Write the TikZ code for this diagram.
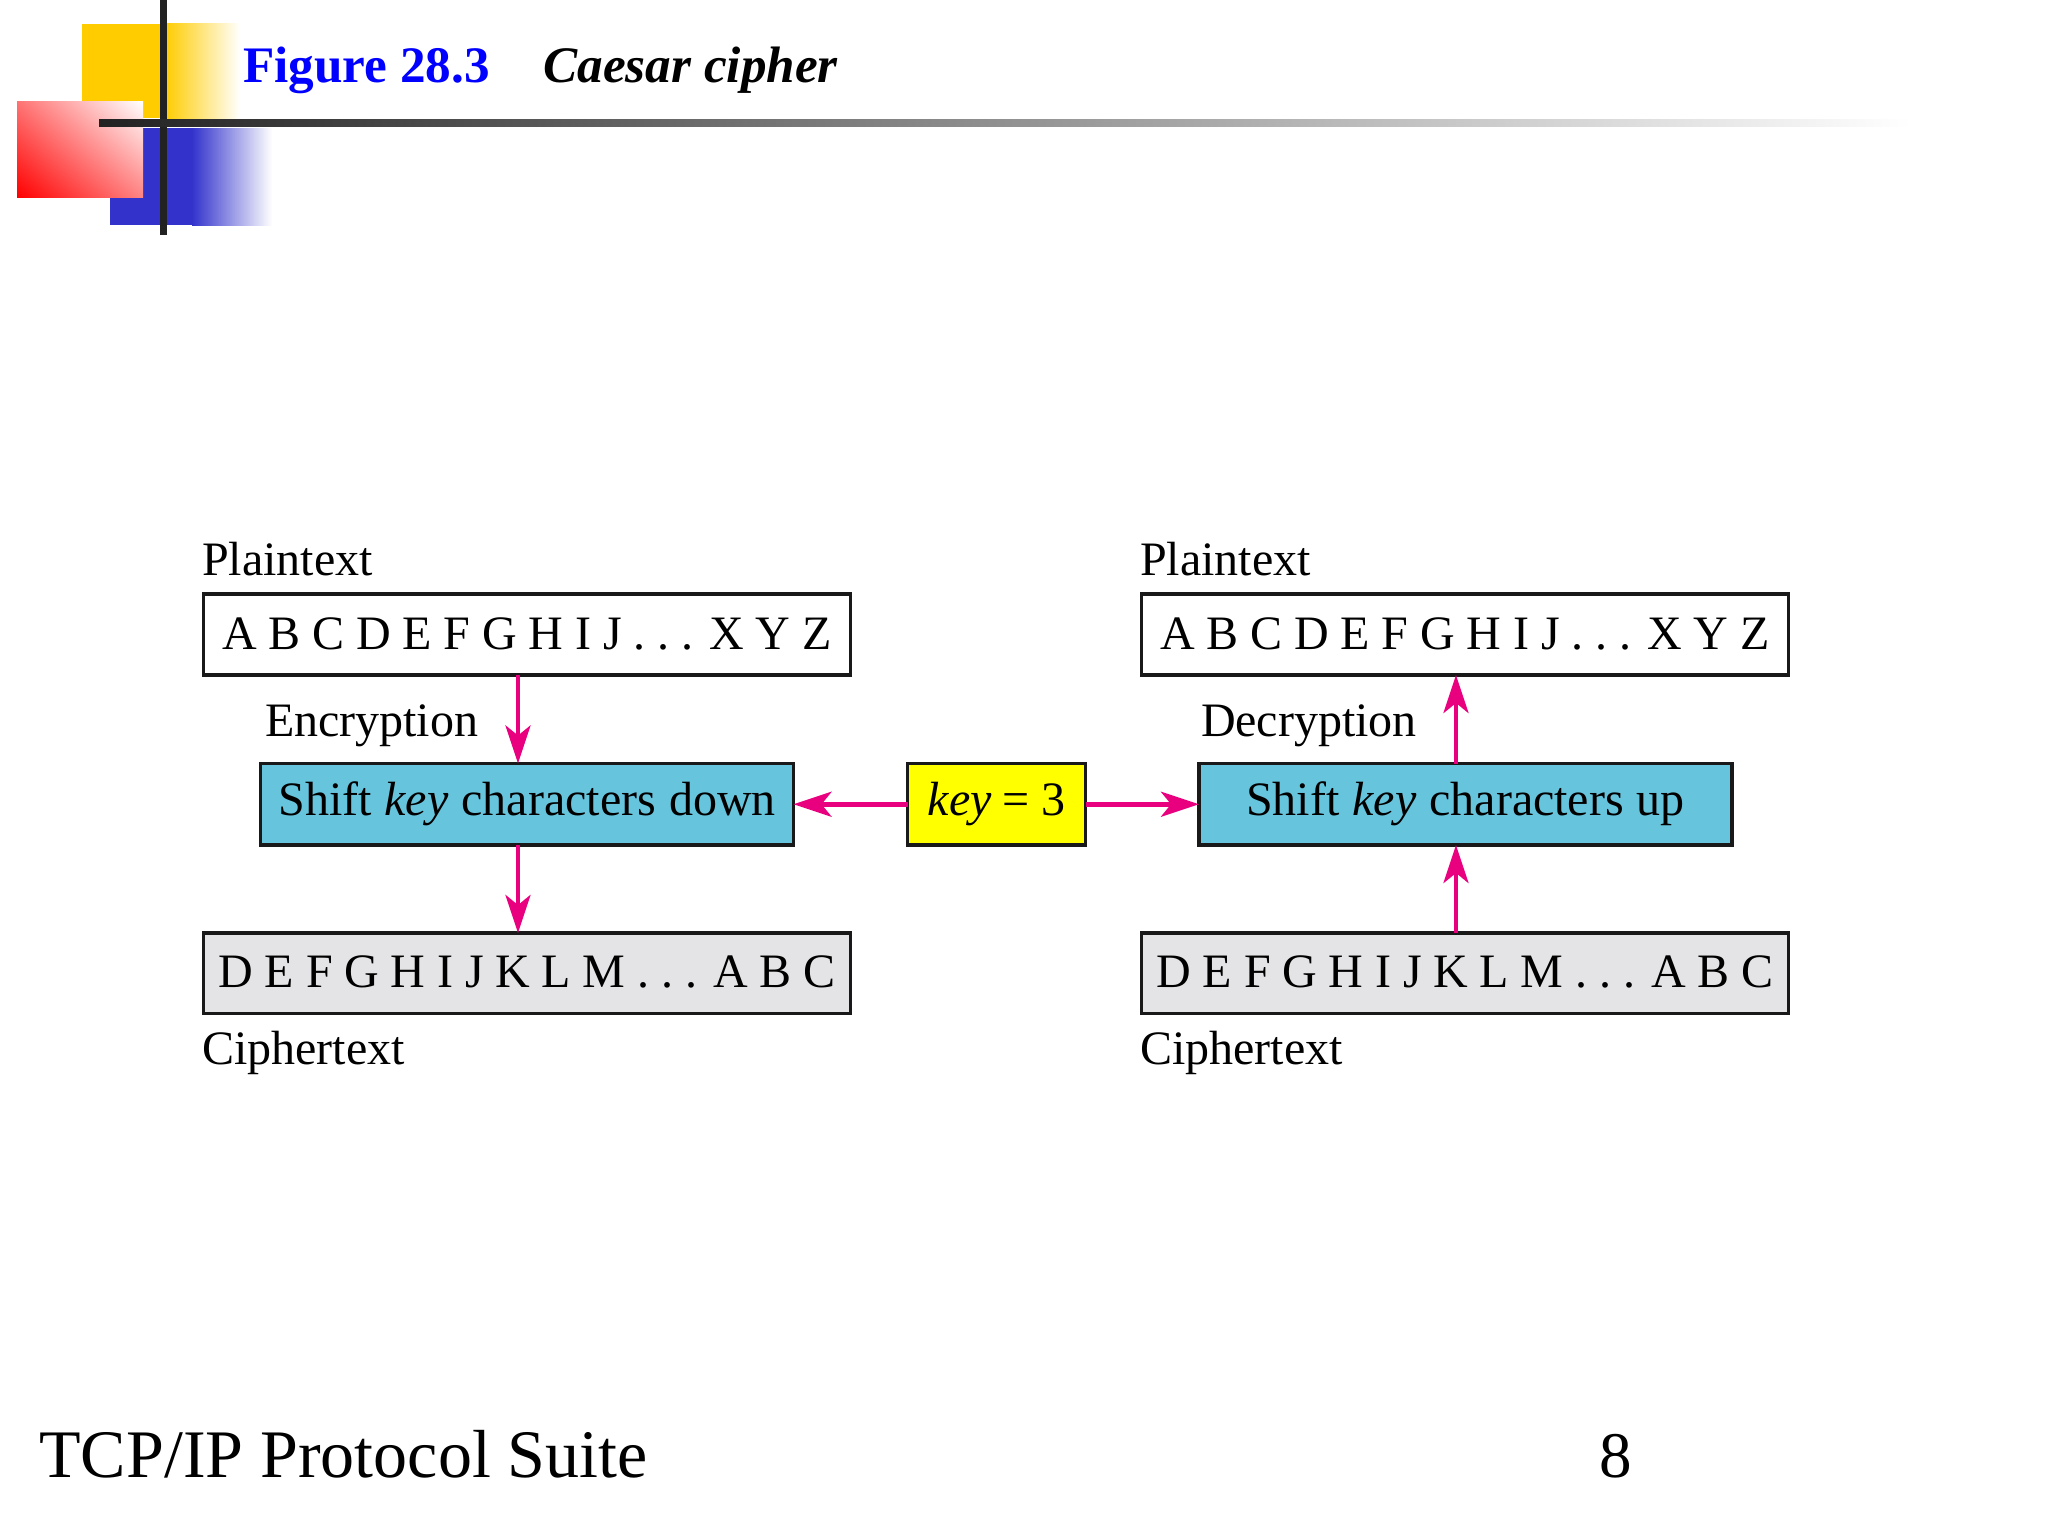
\documentclass[tikz,border=0pt]{standalone}
\usepackage{fontspec}
\setmainfont{Liberation Serif}
\usetikzlibrary{arrows.meta,shadings}
\definecolor{pinkc}{HTML}{E8007F}
\definecolor{bluebox}{HTML}{66C4DC}
\definecolor{greybox}{HTML}{E4E4E6}
\definecolor{keyyellow}{RGB}{255,255,0}
\definecolor{barc}{HTML}{222222}
\definecolor{logoy}{HTML}{FFCC00}
\definecolor{logob}{HTML}{3333CC}
\definecolor{logor}{RGB}{255,0,0}
\newcommand{\diagfont}{\fontsize{24}{28}\selectfont}
\newcommand{\letterline}{\spaceskip=.245em\relax}
\newcommand{\wordline}{\spaceskip=.27em\relax}
\newcommand{\keyline}{\spaceskip=.23em\relax}
\newcommand{\dotgap}{\hspace{.25em}}
\tikzset{
  x=0.5pt,y=-0.5pt,
  boxn/.style={draw=black!90,line width=1.8pt,inner sep=0pt,outer sep=0pt,font=\diagfont},
  tbox/.style={boxn,minimum width=323.5pt,text height=27.75pt,text depth=12.75pt},
  cbox/.style={boxn,fill=greybox,minimum width=323.5pt,text height=27pt,text depth=13.25pt},
  midbox/.style={boxn,fill=bluebox,minimum width=266.5pt,text height=26pt,text depth=14.75pt},
  keybox/.style={boxn,fill=keyyellow,minimum width=89pt,text height=26pt,text depth=14.75pt},
  lab/.style={anchor=base west,inner sep=0pt,outer sep=0pt,font=\diagfont},
  conn/.style={draw=pinkc,line width=2.3pt,-{Stealth[length=19pt,width=12.5pt,inset=5pt]}}
}
\begin{document}
\begin{tikzpicture}
\useasboundingbox (0,0) rectangle (2048,1536);
% logo
\fill[logoy] (82,24) rectangle (165,118);
\shade[left color=logoy,right color=white] (165,24) rectangle (240,118);
\fill[logob] (110,128) rectangle (192,225);
\shade[left color=logob,right color=white] (192,128) rectangle (272,225);
\shade[lower left=logor,upper right=white,upper left=logor!55!white,lower right=logor!48!white] (17,102) rectangle (143,197);
\fill[barc] (159.5,0) rectangle (166.5,235);
\shade[left color=barc,right color=white] (99,119.5) rectangle (1910,126.5);
% title and footer
\node[anchor=base west,inner sep=0pt,text=blue,font=\fontsize{25.6}{30}\selectfont\bfseries] (title) at (243,83) {Figure 28.3};
\node[anchor=base west,inner sep=0pt,font=\fontsize{25.6}{30}\selectfont\bfseries\itshape] (sub) at (543,83) {Caesar cipher};
\node[anchor=base west,inner sep=0pt,font=\fontsize{34}{40}\selectfont] (foot) at (39,1477) {TCP/IP Protocol Suite};
\node[anchor=base west,inner sep=0pt,font=\fontsize{32.5}{40}\selectfont] (page) at (1599,1477) {8};
% boxes
\node[tbox] (pl) at (527,634.5) {\letterline A B C D E F G H I J .\dotgap.\dotgap. X Y Z};
\node[midbox] (sl) at (527,804.25) {\wordline Shift \textit{key} characters down};
\node[cbox] (cl) at (527,973.25) {\letterline D E F G H I J K L M .\dotgap.\dotgap. A B C};
\node[keybox] (key) at (996.5,804.25) {\keyline\textit{key} = 3};
\node[midbox] (sr) at (1465.5,804.25) {\wordline Shift \textit{key} characters up};
\node[tbox] (pr) at (1465,634.5) {\letterline A B C D E F G H I J .\dotgap.\dotgap. X Y Z};
\node[cbox] (cr) at (1465,973.25) {\letterline D E F G H I J K L M .\dotgap.\dotgap. A B C};
% labels
\node[lab] (l1) at (202,575) {Plaintext};
\node[lab] (l2) at (1140,575) {Plaintext};
\node[lab] (l3) at (265,736.5) {Encryption};
\node[lab] (l4) at (1201,736.5) {Decryption};
\node[lab] (l5) at (202,1064) {Ciphertext};
\node[lab] (l6) at (1140,1064) {Ciphertext};
% connectors
\draw[conn] ([xshift=-4.5pt]pl.south) -- ([xshift=-4.5pt]sl.north);
\draw[conn] ([xshift=-4.5pt]sl.south) -- ([xshift=-4.5pt]cl.north);
\draw[conn] ([xshift=-4.75pt]sr.north) -- ([xshift=-4.5pt]pr.south);
\draw[conn] ([xshift=-4.5pt]cr.north) -- ([xshift=-4.75pt]sr.south);
\draw[conn] (key.west) -- (sl.east);
\draw[conn] (key.east) -- (sr.west);
\end{tikzpicture}
\end{document}
